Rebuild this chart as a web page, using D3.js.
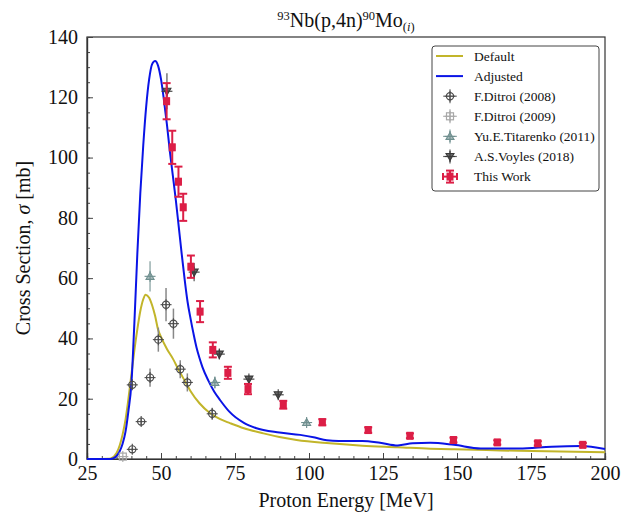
<!DOCTYPE html>
<html><head><meta charset="utf-8">
<script src="https://cdn.jsdelivr.net/npm/d3@7"></script>
<style>body{margin:0;background:#fff}svg{display:block}text{font-family:"Liberation Serif","Times New Roman",serif}</style>
</head><body><svg id="c" width="623" height="518"></svg>
<script>
// ---- data ----
const xTicks = [25, 50, 75, 100, 125, 150, 175, 200];
const yTicks = [0, 20, 40, 60, 80, 100, 120, 140];

const defaultE = [25, 30, 32, 33, 35, 37, 38, 39, 40, 41, 42, 43, 44, 44.8, 46, 47, 48, 49, 50, 52, 54, 56, 58, 60, 63, 66.6, 70, 73.3, 78, 84.6, 90, 95.8, 107, 118, 130, 141, 149, 160, 171, 185, 200];
const defaultS = [0, 0, 0.05, 0.2, 2, 8, 13, 20, 28, 36, 43, 49, 53, 54.5, 53.5, 51, 47.5, 43, 40.5, 36.5, 33.3, 29.5, 26, 22.5, 18.5, 15.2, 13.2, 11.9, 10.2, 8.5, 7.3, 6.3, 5.2, 4.4, 3.9, 3.4, 3.2, 2.95, 2.7, 2.45, 2.2];

const adjustedE = [25, 33, 34, 35, 36, 37, 38, 39, 40, 41, 42, 43, 44, 45, 46, 47, 48, 49, 50, 51, 52, 53, 54, 55, 56, 57, 58, 59, 60, 61, 62, 63, 64, 66, 68, 70, 73, 78, 82, 90, 97, 102, 106, 110, 118, 124, 130, 135, 141, 149, 158, 171, 182, 192, 200];
const adjustedS = [0, 0, 0.3, 1, 2.5, 5, 9, 16, 25, 45, 68, 88, 104, 117, 126, 131, 132, 130.5, 126, 119, 111, 102, 94, 86, 77, 68, 59.5, 52, 46.5, 41.5, 37, 33.5, 30.5, 26, 22.3, 19.5, 15.8, 12, 10.3, 8.8, 8, 7.1, 6.2, 6, 6, 5.4, 4.5, 5.2, 5.4, 4.7, 3.5, 3.5, 4.1, 4.3, 3.3];

const ditroi2008E = [40.3, 43.3, 40.3, 46.3, 49.1, 51.7, 54.2, 56.5, 58.9, 67.3];
const ditroi2008S = [24.6, 12.4, 3.2, 27.0, 39.6, 51.2, 44.9, 29.8, 25.4, 15.0];
const ditroi2008Err = [1.2, 1.0, 0.6, 3, 4, 5.5, 5, 3, 3, 2];

const ditroi2009E = [37.1];
const ditroi2009S = [0.8];
const ditroi2009Err = [0.3];

const titarenkoE = [46.3, 68.2, 99.2];
const titarenkoS = [60.6, 25.4, 12.1];
const titarenkoErr = [5, 2, 1];

const voylesE = [52.0, 61.2, 69.7, 79.7, 89.6];
const voylesS = [122, 62, 34.8, 26.5, 21.3];
const voylesErr = [6, 3, 1.5, 1.2, 1];

const workE = [51.9, 53.8, 55.9, 57.5, 60.1, 63.2, 67.5, 72.6, 79.4, 91.3, 104.5, 120, 134.1, 148.8, 163.6, 177.3, 192.5];
const workS = [118.7, 103.4, 92, 83.5, 63.8, 48.9, 36.2, 28.6, 23.2, 18.0, 12.2, 9.6, 7.7, 6.3, 5.5, 5.2, 4.7];
const workErr = [6, 5.5, 5, 4.5, 3.7, 3.5, 2.5, 2, 1.7, 1.3, 1, 0.9, 0.8, 0.8, 0.7, 0.7, 0.6];
const workXErr = [0.7, 0.7, 0.7, 0.7, 0.7, 0.7, 0.7, 0.7, 0.7, 0.7, 0.7, 0.7, 0.7, 0.7, 0.7, 0.7, 0.7];

const legendLabels = ["Default", "Adjusted", "F.Ditroi (2008)", "F.Ditroi (2009)", "Yu.E.Titarenko (2011)", "A.S.Voyles (2018)", "This Work"];

// ---- layout ----
const svg = d3.select("#c");
const L = 87, T = 37, R = 605, B = 459;
const x = d3.scaleLinear().domain([25, 200]).range([L, R]);
const y = d3.scaleLinear().domain([0, 140]).range([B, T]);

const colDefault = "#c2b52a", colAdj = "#0a14e6";
const colD08 = "#4a4a4a", colD09 = "#a8a8a8", colTit = "#6f8f8f", colVoy = "#3a3a3a", colWork = "#dc1e46";

// frame
svg.append("rect").attr("x", L).attr("y", T).attr("width", R - L).attr("height", B - T)
  .attr("fill", "none").attr("stroke", "#333").attr("stroke-width", 1.2);

// axes with inward ticks
const gx = svg.append("g").attr("transform", `translate(0,${B})`);
gx.call(d3.axisBottom(x).tickValues(d3.range(25, 201, 5)).tickSize(-3).tickFormat(""));
gx.append("g").call(d3.axisBottom(x).tickValues(xTicks).tickSize(-6).tickPadding(7).tickFormat(d3.format("d")));
const gy = svg.append("g").attr("transform", `translate(${L},0)`);
gy.call(d3.axisLeft(y).tickValues(d3.range(0, 141, 5)).tickSize(-3).tickFormat(""));
gy.append("g").call(d3.axisLeft(y).tickValues(yTicks).tickSize(-6).tickPadding(9).tickFormat(d3.format("d")));
svg.selectAll(".domain").attr("stroke", "#333").attr("stroke-width", 1.2);
svg.selectAll(".tick line").attr("stroke", "#444");
svg.selectAll(".tick text").attr("font-size", 20).attr("fill", "#111")
  .style("font-family", "'Liberation Serif',serif");

// curves
const line = d3.line().x(d => x(d[0])).y(d => y(d[1])).curve(d3.curveMonotoneX);
svg.append("path").datum(defaultE.map((e, i) => [e, defaultS[i]]))
  .attr("d", line).attr("fill", "none").attr("stroke", colDefault).attr("stroke-width", 2);
svg.append("path").datum(adjustedE.map((e, i) => [e, adjustedS[i]]))
  .attr("d", line).attr("fill", "none").attr("stroke", colAdj).attr("stroke-width", 2);

// marker helpers
function errV(g, cx, y1, y2, col, w, cap) {
  g.append("line").attr("x1", cx).attr("x2", cx).attr("y1", y1).attr("y2", y2).attr("stroke", col).attr("stroke-width", w);
  if (cap) {
    g.append("line").attr("x1", cx - cap).attr("x2", cx + cap).attr("y1", y1).attr("y2", y1).attr("stroke", col).attr("stroke-width", w);
    g.append("line").attr("x1", cx - cap).attr("x2", cx + cap).attr("y1", y2).attr("y2", y2).attr("stroke", col).attr("stroke-width", w);
  }
}
function cross(g, cx, cy, col) {
  g.append("line").attr("x1", cx - 5.5).attr("x2", cx + 5.5).attr("y1", cy).attr("y2", cy).attr("stroke", col).attr("stroke-width", 1.1);
  g.append("line").attr("x1", cx).attr("x2", cx).attr("y1", cy - 5.5).attr("y2", cy + 5.5).attr("stroke", col).attr("stroke-width", 1.1);
}
function symbol(g, type, cx, cy, col) {
  if (type === "circle") {
    g.append("circle").attr("cx", cx).attr("cy", cy).attr("r", 3.6).attr("fill", "none").attr("stroke", col).attr("stroke-width", 1.2);
    cross(g, cx, cy, col);
  } else if (type === "square") {
    g.append("rect").attr("x", cx - 3.5).attr("y", cy - 3.5).attr("width", 7).attr("height", 7).attr("fill", "none").attr("stroke", col).attr("stroke-width", 1.2);
    cross(g, cx, cy, col);
  } else if (type === "triUp") {
    g.append("path").attr("d", `M${cx},${cy - 4}L${cx + 4},${cy + 3}L${cx - 4},${cy + 3}Z`).attr("fill", "#a9bcbc").attr("stroke", col).attr("stroke-width", 1.1);
    cross(g, cx, cy, col);
  } else if (type === "triDown") {
    g.append("path").attr("d", `M${cx},${cy + 4}L${cx + 4},${cy - 3}L${cx - 4},${cy - 3}Z`).attr("fill", "#666").attr("stroke", col).attr("stroke-width", 1.1);
    cross(g, cx, cy, col);
  } else if (type === "work") {
    g.append("rect").attr("x", cx - 3.5).attr("y", cy - 4).attr("width", 7).attr("height", 8).attr("fill", col);
  }
}
function drawSet(E, S, Err, type, col, errCol) {
  const g = svg.append("g");
  E.forEach((e, i) => {
    const cx = x(e), cy = y(S[i]);
    errV(g, cx, y(S[i] + Err[i]), y(S[i] - Err[i]), errCol, 1.5, 0);
    symbol(g, type, cx, cy, col);
  });
}
drawSet(ditroi2009E, ditroi2009S, ditroi2009Err, "square", colD09, "#bbb");
drawSet(ditroi2008E, ditroi2008S, ditroi2008Err, "circle", colD08, "#888");
drawSet(titarenkoE, titarenkoS, titarenkoErr, "triUp", colTit, "#9ab0b0");
drawSet(voylesE, voylesS, voylesErr, "triDown", colVoy, "#777");

// This Work
const gw = svg.append("g");
workE.forEach((e, i) => {
  const cx = x(e), cy = y(workS[i]);
  errV(gw, cx, y(workS[i] + workErr[i]), y(workS[i] - workErr[i]), colWork, 2, 4);
  const x1 = x(e - workXErr[i]), x2 = x(e + workXErr[i]);
  gw.append("line").attr("x1", x1).attr("x2", x2).attr("y1", cy).attr("y2", cy).attr("stroke", colWork).attr("stroke-width", 2);
  gw.append("line").attr("x1", x1).attr("x2", x1).attr("y1", cy - 3.5).attr("y2", cy + 3.5).attr("stroke", colWork).attr("stroke-width", 2);
  gw.append("line").attr("x1", x2).attr("x2", x2).attr("y1", cy - 3.5).attr("y2", cy + 3.5).attr("stroke", colWork).attr("stroke-width", 2);
  symbol(gw, "work", cx, cy, colWork);
});

// title
const title = svg.append("text").attr("x", 346).attr("y", 27).attr("text-anchor", "middle").attr("font-size", 20).attr("fill", "#111");
title.append("tspan").text("93").attr("font-size", 12.5).attr("dy", -7);
title.append("tspan").text("Nb(p,4n)").attr("dy", 7);
title.append("tspan").text("90").attr("font-size", 12.5).attr("dy", -7);
title.append("tspan").text("Mo").attr("dy", 7);
title.append("tspan").text("(").attr("font-size", 12.5).attr("dy", 4);
title.append("tspan").text("i").attr("font-size", 12.5).attr("font-style", "italic");
title.append("tspan").text(")").attr("font-size", 12.5);

// axis labels
svg.append("text").attr("x", 346).attr("y", 507).attr("text-anchor", "middle").attr("font-size", 20).attr("fill", "#111").text("Proton Energy [MeV]");
const yl = svg.append("text").attr("transform", "translate(30,248) rotate(-90)").attr("text-anchor", "middle").attr("font-size", 20).attr("fill", "#111");
yl.append("tspan").text("Cross Section, ");
yl.append("tspan").text("σ").attr("font-style", "italic");
yl.append("tspan").text(" [mb]");

// legend
const lg = svg.append("g");
lg.append("rect").attr("x", 432).attr("y", 46).attr("width", 167).attr("height", 145).attr("rx", 3)
  .attr("fill", "#fff").attr("stroke", "#444").attr("stroke-width", 1);
const rowY = d => 56 + d * 20.1;
legendLabels.forEach((lab, i) => {
  const cy = rowY(i);
  if (i === 0 || i === 1) {
    lg.append("line").attr("x1", 436).attr("x2", 463).attr("y1", cy).attr("y2", cy).attr("stroke", i === 0 ? colDefault : colAdj).attr("stroke-width", 2);
  } else if (i === 6) {
    errV(lg, 450, cy - 6, cy + 6, colWork, 2, 4);
    lg.append("line").attr("x1", 443).attr("x2", 457).attr("y1", cy).attr("y2", cy).attr("stroke", colWork).attr("stroke-width", 2);
    lg.append("line").attr("x1", 443).attr("x2", 443).attr("y1", cy - 3.5).attr("y2", cy + 3.5).attr("stroke", colWork).attr("stroke-width", 2);
    lg.append("line").attr("x1", 457).attr("x2", 457).attr("y1", cy - 3.5).attr("y2", cy + 3.5).attr("stroke", colWork).attr("stroke-width", 2);
    symbol(lg, "work", 450, cy, colWork);
  } else {
    const types = [null, null, "circle", "square", "triUp", "triDown"];
    const cols = [null, null, colD08, colD09, colTit, colVoy];
    const ecols = [null, null, "#888", "#bbb", "#9ab0b0", "#777"];
    errV(lg, 450, cy - 7, cy + 7, ecols[i], 1.5, 0);
    lg.append("line").attr("x1", 443).attr("x2", 457).attr("y1", cy).attr("y2", cy).attr("stroke", ecols[i]).attr("stroke-width", 1.2);
    symbol(lg, types[i], 450, cy, cols[i]);
  }
  lg.append("text").attr("x", 474).attr("y", cy + 4.5).attr("font-size", 13.5).attr("fill", "#111").text(lab);
});
</script></body></html>
